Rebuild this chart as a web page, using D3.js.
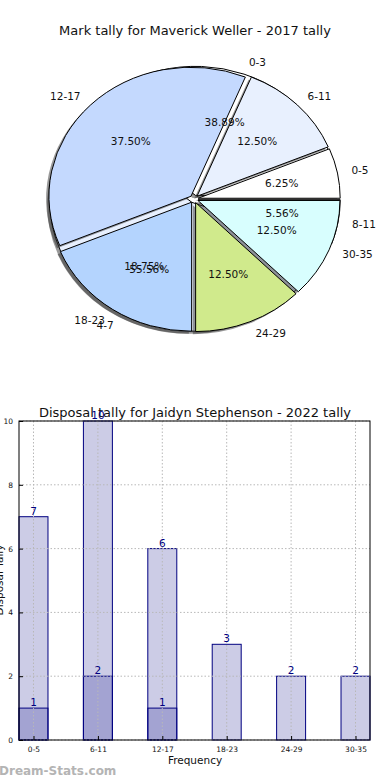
<!DOCTYPE html>
<html>
<head>
<meta charset="utf-8">
<script src="https://cdn.jsdelivr.net/npm/d3@7"></script>
<style>
  html, body { margin: 0; padding: 0; background: #fff; }
  svg { display: block; font-family: "DejaVu Sans", sans-serif; }
</style>
</head>
<body>
<script>
// ---------- data ----------
const pieTitle = "Mark tally for Maverick Weller - 2017 tally";
const pieALabels = ["0-3", "4-7", "8-11"];
const pieAValues = [38.89, 55.56, 5.56];
const pieAColors = ["#ffffff", "#e8f0fe", "#c4d9fe"];
const pieBLabels = ["0-5", "6-11", "12-17", "18-23", "24-29", "30-35"];
const pieBValues = [6.25, 12.50, 37.50, 18.75, 12.50, 12.50];
const pieBColors = ["#ffffff", "#e8f0fe", "#c4d9fe", "#b4d4fe", "#d0ea8c", "#d8fefe"];

const barTitle = "Disposal tally for Jaidyn Stephenson - 2022 tally";
const barCategories = ["0-5", "6-11", "12-17", "18-23", "24-29", "30-35"];
const barSeries1 = [7, 10, 6, 3, 2, 2];
const barSeries2 = [1, 2, 1, 0, 0, 0];
const yTicks = [0, 2, 4, 6, 8, 10];
const xLabel = "Frequency";
const yLabel = "Disposal Tally";
const watermark = "Dream-Stats.com";

// ---------- svg ----------
const W = 390, H = 780;
const svg = d3.select("body").append("svg").attr("width", W).attr("height", H);

// ---------- pie ----------
svg.append("text").attr("x", 195).attr("y", 35).attr("text-anchor", "middle")
  .attr("font-size", 13).attr("fill", "#111").text(pieTitle);

const cx = 194, cy = 199, rx = 142, ry = 129;
const pie = d3.pie().sort(null).value(d => d).startAngle(Math.PI / 2).endAngle(Math.PI / 2 - 2 * Math.PI);
const arcGen = d3.arc().innerRadius(0).outerRadius(1);
const pieRoot = svg.append("g").attr("transform", `translate(${cx},${cy})`);

function drawPie(values, labels, colors, explode) {
  const arcs = pie(values).map((a, i) => {
    const mid = (a.startAngle + a.endAngle) / 2;
    return { a, i, mid, ox: explode * Math.sin(mid), oy: -explode * Math.cos(mid) };
  });
  // shadows
  const sh = pieRoot.append("g").attr("transform", `translate(${-0.02 * rx},${0.02 * ry}) scale(${rx},${ry})`);
  sh.selectAll("path").data(arcs).join("path")
    .attr("transform", d => `translate(${d.ox},${d.oy})`)
    .attr("d", d => arcGen(d.a))
    .attr("fill", "#333").attr("fill-opacity", 0.5);
  // wedges
  const wg = pieRoot.append("g").attr("transform", `scale(${rx},${ry})`);
  wg.selectAll("path").data(arcs).join("path")
    .attr("transform", d => `translate(${d.ox},${d.oy})`)
    .attr("d", d => arcGen(d.a))
    .attr("fill", d => colors[d.i])
    .attr("stroke", "#000").attr("stroke-width", 1)
    .attr("vector-effect", "non-scaling-stroke")
    .attr("stroke-linejoin", "round");
  return arcs;
}
const arcsA = drawPie(pieAValues, pieALabels, pieAColors, 0.03);
const arcsB = drawPie(pieBValues, pieBLabels, pieBColors, 0.03);

function drawPieText(arcs, labels, values) {
  const tg = pieRoot.append("g").attr("font-size", 10.5).attr("fill", "#111");
  arcs.forEach(d => {
    const ux = Math.sin(d.mid), uy = -Math.cos(d.mid);
    const lx = (d.ox + 1.1 * ux) * rx, ly = (d.oy + 1.1 * uy) * ry;
    tg.append("text").attr("x", lx).attr("y", ly).attr("dy", "0.35em")
      .attr("text-anchor", lx >= 0 ? "start" : "end").text(labels[d.i]);
    const px = (d.ox + 0.6 * ux) * rx, py = (d.oy + 0.6 * uy) * ry;
    tg.append("text").attr("x", px).attr("y", py).attr("dy", "0.35em")
      .attr("text-anchor", "middle").text(values[d.i].toFixed(2) + "%");
  });
}
drawPieText(arcsA, pieALabels, pieAValues);
drawPieText(arcsB, pieBLabels, pieBValues);

// ---------- bar chart ----------
const L = 19, R = 370, T = 421, B = 740;
const barW = 0.45;
const x = d3.scaleLinear().domain([-barW / 2, barCategories.length - 1 + barW / 2]).range([L, R]);
const y = d3.scaleLinear().domain([0, 10]).range([B, T]);

svg.append("text").attr("x", 195).attr("y", 417).attr("text-anchor", "middle")
  .attr("font-size", 13).attr("fill", "#111").text(barTitle);

const bars = svg.append("g");
function drawBars(vals) {
  bars.append("g").selectAll("rect").data(vals.map((v, i) => ({ v, i })).filter(d => d.v > 0)).join("rect")
    .attr("x", d => x(d.i - barW / 2)).attr("width", x(barW) - x(0))
    .attr("y", d => y(d.v)).attr("height", d => y(0) - y(d.v))
    .attr("fill", "#000080").attr("fill-opacity", 0.2)
    .attr("stroke", "#000080").attr("stroke-width", 1);
}
drawBars(barSeries1);
drawBars(barSeries2);

// grid
const grid = svg.append("g").attr("stroke", "#b8b8b8").attr("stroke-dasharray", "1.5,2").attr("stroke-width", 1);
barCategories.forEach((c, i) => {
  grid.append("line").attr("x1", x(i)).attr("x2", x(i)).attr("y1", T).attr("y2", B);
});
yTicks.forEach(t => {
  grid.append("line").attr("x1", L).attr("x2", R).attr("y1", y(t)).attr("y2", y(t));
});

// value labels
const vl = svg.append("g").attr("font-size", 10.5).attr("fill", "#000080").attr("text-anchor", "middle");
[barSeries1, barSeries2].forEach(vals => {
  vals.forEach((v, i) => {
    if (v > 0) vl.append("text").attr("x", x(i)).attr("y", y(v) - 2).text(v);
  });
});

// axes
const xAxis = d3.axisBottom(x).tickValues(d3.range(barCategories.length))
  .tickFormat(i => barCategories[i]).tickSizeInner(-4).tickSizeOuter(0).tickPadding(7);
const yAxis = d3.axisLeft(y).tickValues(yTicks).tickSizeInner(-4).tickSizeOuter(0).tickPadding(6);
const gx = svg.append("g").attr("transform", `translate(0,${B})`).call(xAxis);
const gy = svg.append("g").attr("transform", `translate(${L},0)`).call(yAxis);
[gx, gy].forEach(g => {
  g.select(".domain").remove();
  g.selectAll("text").attr("font-size", 7.5).attr("fill", "#111").attr("font-family", "DejaVu Sans");
  g.selectAll("line").attr("stroke", "#000");
});
svg.append("rect").attr("x", L).attr("y", T).attr("width", R - L).attr("height", B - T)
  .attr("fill", "none").attr("stroke", "#000").attr("stroke-width", 1);

svg.append("text").attr("x", 195).attr("y", 764).attr("text-anchor", "middle")
  .attr("font-size", 10.5).attr("fill", "#111").text(xLabel);
svg.append("text").attr("transform", "translate(3,580) rotate(-90)").attr("text-anchor", "middle")
  .attr("font-size", 10.5).attr("fill", "#111").text(yLabel);

svg.append("text").attr("x", -1).attr("y", 775).attr("font-size", 12).attr("font-weight", "bold")
  .attr("fill", "#b4b4b4").text(watermark);
</script>
</body>
</html>
